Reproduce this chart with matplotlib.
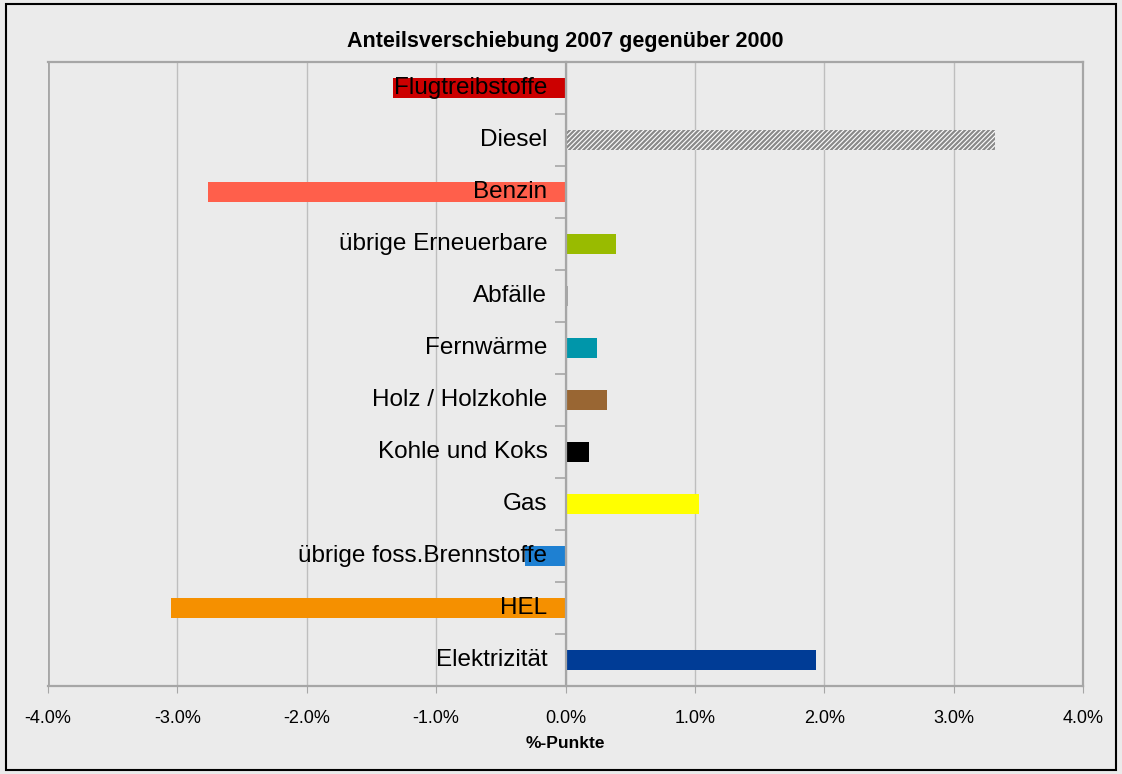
import matplotlib
matplotlib.use("Agg")
import matplotlib.pyplot as plt
from matplotlib.patches import Rectangle
from matplotlib.ticker import FuncFormatter

plt.rcParams["font.family"] = ["Liberation Sans", "DejaVu Sans"]
plt.rcParams["hatch.linewidth"] = 1.6

# ---- Daten (von unten nach oben) ------------------------------------------
categories = ["Elektrizität", "HEL", "übrige foss.Brennstoffe", "Gas", "Kohle und Koks",
              "Holz / Holzkohle", "Fernwärme", "Abfälle", "übrige Erneuerbare",
              "Benzin", "Diesel", "Flugtreibstoffe"]
shift_pp = [1.94, -3.05, -0.31, 1.03, 0.18, 0.32, 0.24, 0.02, 0.39, -2.76, 3.32, -1.33]
colors = ["#003C96", "#F59000", "#1E80D2", "#FFFF00", "#000000", "#996633",
          "#0096AA", "#A6A6A6", "#99BB00", "#FF5F4B", "#FFFFFF", "#CC0000"]
x_ticks = [-4, -3, -2, -1, 0, 1, 2, 3, 4]

BG = "#EBEBEB"
GRID = "#BEBEBE"
FRAME = "#A6A6A6"

W, H = 1122, 774
fig = plt.figure(figsize=(W / 100, H / 100), dpi=100, facecolor=BG)
ax = fig.add_axes([48 / W, 1 - 686 / H, (1083 - 48) / W, (686 - 62) / H])
ax.set_facecolor(BG)

# äusserer Rahmen
fig.patches.append(Rectangle((6 / W, 4 / H), 1110 / W, 766 / H,
                             transform=fig.transFigure, fill=False,
                             edgecolor="#000000", linewidth=1.5, zorder=0))

ypos = list(range(len(categories)))
for y, v, c, name in zip(ypos, shift_pp, colors, categories):
    if name == "Diesel":
        ax.barh(y, v, height=0.4, color="#FFFFFF", edgecolor="#8A8A8A",
                hatch="///////", linewidth=0, zorder=3)
    else:
        ax.barh(y, v, height=0.4, color=c, linewidth=0, zorder=5 if name == "Abfälle" else 3)
    ax.text(-0.14, y, name, ha="right", va="center", fontsize=17.5, zorder=6)

ax.set_xlim(-4, 4)
ax.set_ylim(-0.5, 11.5)
ax.set_xticks(x_ticks)
ax.xaxis.set_major_formatter(FuncFormatter(lambda v, p: "%.1f%%" % v))
ax.tick_params(axis="x", length=5, color=FRAME, labelsize=13, pad=12)
ax.grid(axis="x", color=GRID, linewidth=1, zorder=1)

# y-Achse auf 0 mit Strichen zwischen den Kategorien
ax.set_yticks([k + 0.5 for k in range(len(categories) - 1)])
ax.set_yticklabels([])
ax.spines["left"].set_position(("data", 0))
ax.spines["left"].set_zorder(4)
ax.tick_params(axis="y", length=8, color=FRAME, width=1.2)
ax.axvline(-4, color=FRAME, linewidth=2, zorder=4)
for s in ["left", "right", "top", "bottom"]:
    ax.spines[s].set_color(FRAME)
    ax.spines[s].set_linewidth(1.6)

fig.text((48 + 1083) / 2 / W, 1 - 42 / H, "Anteilsverschiebung 2007 gegenüber 2000",
         ha="center", va="center", fontsize=15.5, fontweight="bold")
fig.text((48 + 1083) / 2 / W, 1 - 743 / H, "%-Punkte",
         ha="center", va="center", fontsize=12.5, fontweight="bold")

fig.savefig("out.png", dpi=100, facecolor=BG)
